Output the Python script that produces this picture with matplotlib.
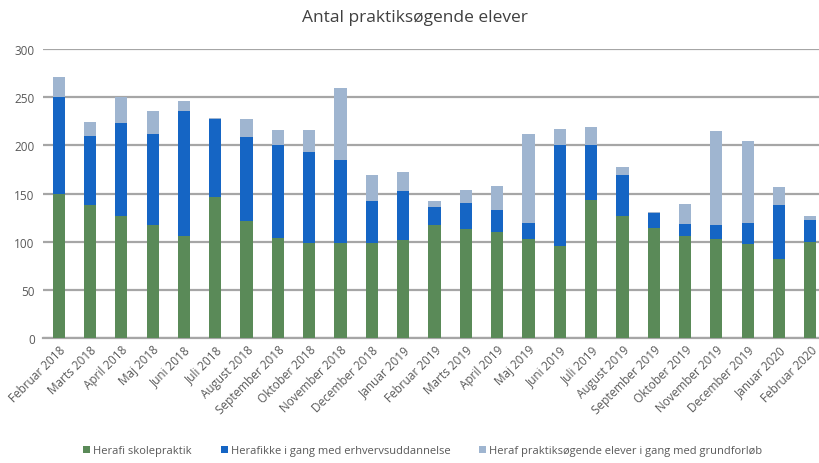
import matplotlib
matplotlib.use("Agg")
import matplotlib.pyplot as plt
import numpy as np

months = ["Februar 2018", "Marts 2018", "April 2018", "Maj 2018", "Juni 2018", "Juli 2018",
          "August 2018", "September 2018", "Oktober 2018", "November 2018", "December 2018",
          "Januar 2019", "Februar 2019", "Marts 2019", "April 2019", "Maj 2019", "Juni 2019",
          "Juli 2019", "August 2019", "September 2019", "Oktober 2019", "November 2019",
          "December 2019", "Januar 2020", "Februar 2020"]

# cumulative tops
green_top = [149, 138, 127, 117, 106, 146, 121, 104, 99, 99, 99, 102, 117, 113, 110, 103,
             95, 143, 127, 114, 106, 103, 98, 82, 100]
blue_top = [250, 210, 223, 212, 236, 227, 209, 200, 193, 185, 142, 153, 136, 140, 133, 119,
            200, 200, 169, 130, 118, 117, 119, 138, 123]
total_top = [271, 224, 250, 236, 246, 228, 227, 216, 216, 259, 169, 172, 142, 154, 158, 212,
             217, 219, 178, 131, 139, 215, 204, 157, 127]

skolepraktik = np.array(green_top)
ikke_i_gang = np.array(blue_top) - skolepraktik
grundforloeb = np.array(total_top) - np.array(blue_top)

labels = ["Herafi skolepraktik", "Herafikke i gang med erhvervsuddannelse",
          "Heraf praktiksøgende elever i gang med grundforløb"]
colors = ["#5A8A58", "#1565C4", "#9FB5D0"]

plt.rcParams['font.family'] = ['Open Sans', 'DejaVu Sans']

fig = plt.figure(figsize=(8.2, 4.64), dpi=100)
W, H = 820, 464
ax = fig.add_axes([43 / W, (H - 339) / H, (826 - 43) / W, (339 - 50) / H])

x = np.arange(len(months))
w = 0.39
ax.bar(x, skolepraktik, w, color=colors[0], label=labels[0], zorder=3)
ax.bar(x, ikke_i_gang, w, bottom=skolepraktik, color=colors[1], label=labels[1], zorder=3)
ax.bar(x, grundforloeb, w, bottom=np.array(blue_top), color=colors[2], label=labels[2], zorder=3)

ax.set_xlim(-0.5, len(months) - 0.5)
ax.set_ylim(0, 300)
ax.set_yticks(range(0, 301, 50))
ax.yaxis.grid(True, color="#A6A6A6", linewidth=1.6, zorder=0)
ax.set_axisbelow(True)
for s in ["top", "right", "left"]:
    ax.spines[s].set_visible(False)
ax.spines["bottom"].set_color("#A6A6A6")
ax.spines["bottom"].set_linewidth(1.6)
ax.tick_params(axis="both", length=0, colors="#595959", labelsize=8.5)
ax.tick_params(axis="y", pad=6)
ax.set_xticks(x)
ax.set_xticklabels(months, rotation=45, ha="right", rotation_mode="anchor")

fig.text(415 / W, 1 - 18 / H, "Antal praktiksøgende elever", ha="center", va="center",
         fontsize=12.5, color="#404040")

fig.legend(loc="center", bbox_to_anchor=(423 / W, 1 - 452 / H), ncol=3, frameon=False,
           fontsize=8, handlelength=0.6, handleheight=0.6, handletextpad=0.3,
           columnspacing=2.6, labelcolor="#595959")

fig.savefig("out.png", dpi=100)
